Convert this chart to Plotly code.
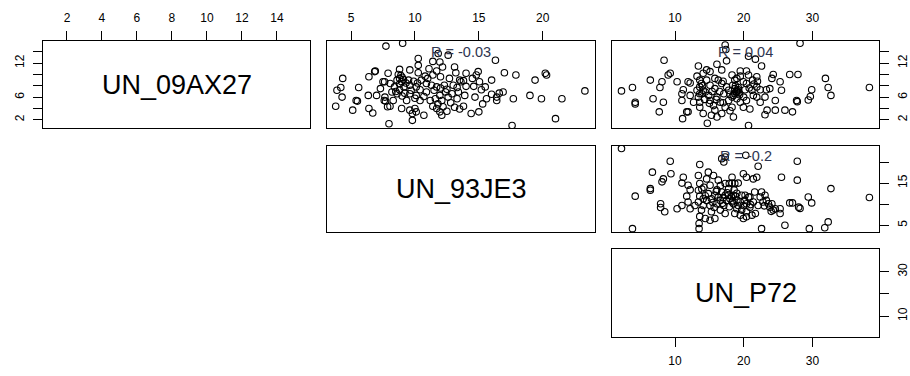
import plotly.graph_objects as go

# Variable names shown on the diagonal and the correlation labels of the upper panels
variables = ["UN_09AX27", "UN_93JE3", "UN_P72"]
corr_labels = ["R = -0.03", "R = 0.04", "R = -0.2"]

# Tick positions and the labels that are printed for each variable
ax27_ticks = [2, 4, 6, 8, 10, 12, 14]
ax27_top_text = ["2", "4", "6", "8", "10", "12", "14"]
ax27_side_text = ["2", "", "6", "", "", "12", ""]
je3_ticks = [5, 10, 15, 20]
je3_top_text = ["5", "10", "15", "20"]
je3_side_text = ["5", "", "15", ""]
p72_ticks = [10, 20, 30]
p72_top_text = ["10", "20", "30"]
p72_side_text = ["10", "", "30"]

# UN_09AX27 (y) against UN_93JE3 (x)
ax27_vs_je3_x = [7.73, 9.04, 10.26, 11.82, 11.95, 11.7, 12.16, 12.6, 13.1, 16.3, 14.95, 17.0, 17.9, 20.2, 20.3,
                 19.4, 23.3, 21.5, 21.0, 17.6, 17.7, 19.0, 19.9, 16.9, 16.4, 16.0, 16.6, 15.6, 15.3, 15.0,
                 14.4, 14.7, 15.2, 15.05, 14.8, 16.0, 14.0, 13.5, 13.8, 14.0, 14.6, 13.9, 13.3, 13.1, 13.8,
                 13.0, 12.7, 12.3, 12.4, 11.95, 12.1, 11.8, 11.95, 12.1, 11.7, 11.6, 11.5, 11.7, 11.0, 10.9,
                 10.8, 10.5, 10.26, 10.26, 9.6, 9.5, 9.6, 10.1, 10.4, 10.1, 10.7, 10.4, 10.0, 10.1, 9.8,
                 10.7, 9.6, 8.96, 9.35, 9.2, 8.8, 8.8, 8.8, 8.8, 8.96, 9.14, 8.6, 8.3, 8.05, 7.97,
                 7.7, 7.6, 7.0, 7.3, 7.5, 7.9, 6.9, 6.4, 6.35, 6.4, 6.7, 5.6, 5.4, 5.13, 4.35,
                 4.2, 3.9, 4.3, 3.8, 9.8, 9.1, 8.6, 8.4, 8.2, 9.6, 11.2, 11.4, 13.3, 13.6, 16.4,
                 7.65, 10.9, 11.3, 8.07, 7.86, 8.7, 8.9, 9.0, 9.3, 9.9, 10.2, 9.7, 8.5, 9.0, 10.0,
                 12.6, 12.9, 12.5, 12.0, 13.4, 12.8, 12.2, 12.5, 13.5, 11.4, 12.0, 11.1, 11.4, 13.2, 14.5,
                 15.5, 5.5, 6.85, 7.63]
ax27_vs_je3_y = [15.0, 15.5, 12.8, 13.7, 12.2, 10.6, 11.3, 13.4, 11.3, 12.5, 10.5, 10.3, 9.9, 10.2, 9.9,
                 9.0, 7.1, 5.7, 2.2, 1.0, 5.7, 6.3, 5.7, 6.9, 6.0, 6.5, 6.7, 5.7, 4.8, 3.4,
                 3.1, 6.0, 7.3, 8.7, 9.9, 9.0, 10.2, 9.0, 8.9, 7.9, 7.9, 6.3, 5.7, 4.2, 4.4,
                 8.1, 9.3, 8.1, 6.9, 6.3, 5.4, 4.8, 3.4, 2.8, 4.0, 5.7, 7.2, 7.8, 9.3, 8.4,
                 9.7, 9.0, 10.3, 11.6, 10.8, 9.0, 8.1, 7.8, 7.3, 6.3, 6.1, 5.4, 4.0, 3.4, 3.1,
                 2.8, 3.7, 4.0, 5.4, 6.7, 7.3, 8.3, 9.3, 10.9, 8.7, 7.8, 6.6, 5.4, 4.4, 1.3,
                 5.3, 5.4, 6.3, 7.5, 8.7, 10.2, 10.6, 9.6, 6.3, 4.0, 3.2, 7.7, 5.4, 3.7, 9.3,
                 7.7, 7.2, 6.0, 4.4, 1.9, 9.1, 9.0, 7.8, 6.9, 6.6, 5.4, 4.4, 7.7, 8.7, 5.4,
                 6.0, 6.9, 8.1, 8.4, 4.3, 10.0, 9.8, 9.5, 8.5, 8.8, 8.5, 7.2, 7.0, 6.2, 5.8,
                 6.0, 6.6, 7.4, 7.6, 6.9, 5.0, 4.3, 3.5, 3.9, 9.9, 9.6, 11.0, 12.3, 10.3, 9.3,
                 7.8, 5.3, 10.5, 8.7]

# UN_09AX27 (y) against UN_P72 (x)
ax27_vs_p72_x = [17.3, 17.4, 28.2, 20.7, 21.7, 17.5, 16.1, 8.4, 13.4, 14.6, 9.3, 9.0, 6.4, 8.1, 3.8,
                 2.2, 4.2, 4.2, 6.8, 8.3, 7.7, 7.8, 10.3, 11.9, 12.2, 11.0, 11.2, 11.0, 11.7, 11.9,
                 11.1, 13.2, 13.6, 14.1, 15.1, 15.8, 13.6, 14.1, 13.4, 13.6, 13.6, 14.4, 14.9, 15.1, 15.6,
                 15.8, 14.7, 16.1, 16.8, 17.3, 18.5, 17.8, 18.3, 18.7, 19.0, 19.2, 18.7, 18.4, 18.3, 19.0,
                 19.5, 19.5, 20.4, 20.7, 21.3, 21.9, 22.6, 20.4, 20.2, 20.4, 19.95, 20.7, 21.4, 22.4, 23.3,
                 23.8, 23.1, 24.6, 23.4, 23.1, 24.6, 26.0, 27.1, 25.5, 25.3, 24.1, 24.3, 26.7, 27.9, 27.7,
                 27.8, 29.4, 29.7, 29.9, 31.9, 32.3, 32.7, 38.3, 16.8, 15.8, 15.1, 16.1, 16.6, 17.1, 17.5,
                 16.8, 19.0, 18.3, 19.5, 14.6, 13.85, 13.2, 12.2, 12.7, 14.1, 15.3, 16.3, 18.7, 19.95, 21.9,
                 21.2, 21.9, 22.4, 18.5, 19.2, 13.6, 14.0, 15.4, 16.0, 16.5, 17.0, 17.8, 18.0, 18.8, 19.4,
                 20.0, 20.8, 21.5, 22.0, 18.9, 19.1, 19.3, 13.9, 14.3, 15.0, 17.0, 18.0, 20.9]
ax27_vs_p72_y = [15.2, 14.4, 15.5, 13.2, 12.7, 12.4, 11.8, 12.5, 11.5, 10.8, 10.2, 9.9, 9.0, 8.7, 7.7,
                 7.1, 5.1, 4.8, 5.7, 5.1, 3.4, 7.7, 8.7, 8.7, 8.5, 6.6, 7.3, 5.4, 3.4, 3.4,
                 2.2, 9.7, 9.0, 10.2, 10.5, 9.3, 7.8, 7.2, 6.0, 5.1, 4.2, 6.9, 6.3, 5.4, 4.5,
                 3.7, 1.4, 2.5, 3.1, 4.2, 2.5, 5.4, 6.0, 6.6, 6.9, 7.3, 7.5, 8.1, 9.9, 9.3,
                 9.7, 10.6, 10.6, 9.9, 9.0, 9.6, 11.5, 8.4, 7.3, 5.4, 4.2, 1.0, 6.3, 7.3, 7.3,
                 7.5, 6.0, 5.4, 3.7, 2.9, 3.7, 3.7, 3.4, 7.2, 8.7, 9.3, 10.0, 10.0, 10.0, 5.4,
                 5.2, 5.5, 6.1, 7.3, 9.3, 7.7, 6.3, 7.7, 10.8, 7.5, 8.1, 6.0, 5.1, 6.6, 7.8,
                 8.4, 5.7, 4.2, 5.1, 9.0, 8.4, 7.2, 6.3, 5.1, 3.1, 2.8, 9.0, 9.0, 8.7, 7.8,
                 7.2, 6.0, 5.1, 6.3, 7.7, 6.6, 8.0, 7.0, 5.6, 7.0, 8.8, 7.2, 6.5, 8.0, 6.4,
                 6.0, 7.6, 8.3, 8.8, 7.0, 7.1, 6.8, 6.6, 5.6, 4.9, 5.0, 3.6, 3.9]

# UN_93JE3 (y) against UN_P72 (x)
je3_vs_p72_x = [2.2, 3.8, 4.2, 6.4, 6.4, 6.7, 8.1, 8.3, 9.3, 9.4, 7.9, 7.9, 8.5, 10.3, 11.0,
                11.2, 11.0, 11.9, 12.2, 11.7, 11.9, 12.2, 13.6, 13.4, 13.6, 13.4, 13.6, 13.4, 14.1, 13.85,
                13.6, 13.5, 13.5, 14.85, 14.6, 15.1, 14.85, 14.6, 15.1, 15.3, 14.4, 15.8, 16.3, 16.1, 16.3,
                16.1, 16.6, 16.8, 17.3, 17.1, 20.3, 22.1, 17.3, 17.8, 17.3, 17.5, 17.3, 18.3, 18.7, 19.2,
                18.5, 18.0, 18.5, 19.0, 18.7, 19.5, 19.95, 20.4, 21.2, 21.7, 19.95, 20.4, 21.4, 21.9, 19.7,
                20.7, 20.9, 21.6, 19.5, 19.95, 20.4, 22.6, 23.1, 23.3, 23.6, 23.8, 24.3, 24.6, 25.3, 25.3,
                25.5, 22.6, 26.0, 27.8, 27.8, 26.7, 27.1, 28.0, 28.2, 29.4, 29.9, 29.55, 31.8, 32.3, 32.7,
                38.3, 12.9, 14.1, 15.3, 15.8, 16.8, 16.6, 17.1, 17.8, 18.3, 19.0, 19.2, 19.7, 20.4, 20.9,
                21.4, 22.4, 22.8, 24.1, 15.6, 15.1, 18.3, 20.2, 16.0, 17.0, 17.6, 18.2, 18.8, 19.0, 18.4,
                17.9, 16.9, 15.7, 15.5, 14.4, 13.9, 14.2, 16.6, 17.9, 20.1, 21.0, 22.1, 23.0, 24.0, 18.6]
je3_vs_p72_y = [23.2, 4.2, 11.9, 13.7, 13.3, 17.6, 15.3, 16.0, 20.2, 17.2, 10.1, 9.2, 8.2, 8.9, 9.7,
                16.4, 15.0, 14.5, 13.4, 11.9, 10.5, 8.9, 19.4, 16.8, 14.9, 13.3, 11.9, 10.5, 9.7, 8.6,
                7.1, 5.4, 4.2, 17.6, 16.0, 14.5, 12.5, 10.9, 9.7, 8.2, 6.6, 6.6, 15.7, 13.4, 11.7,
                10.1, 8.6, 20.8, 21.2, 20.0, 21.6, 19.0, 14.9, 13.7, 12.1, 10.9, 7.8, 15.0, 14.9, 15.0,
                12.1, 11.3, 10.1, 8.9, 7.8, 7.4, 6.6, 7.0, 7.4, 7.8, 17.2, 16.4, 16.0, 16.4, 12.1,
                11.7, 11.7, 12.9, 10.5, 9.7, 10.1, 12.9, 12.1, 10.9, 10.1, 9.3, 8.6, 8.9, 8.9, 7.8,
                16.4, 4.2, 5.0, 20.2, 15.7, 10.3, 10.3, 9.3, 9.0, 11.7, 10.3, 4.2, 4.4, 5.8, 13.7,
                11.6, 9.7, 11.3, 11.3, 12.1, 12.9, 10.9, 9.7, 12.1, 10.5, 10.9, 9.7, 8.6, 8.2, 9.3,
                10.5, 11.7, 10.5, 10.1, 16.8, 6.2, 16.4, 12.1, 13.0, 11.5, 12.7, 11.8, 11.9, 12.6, 10.8,
                9.4, 10.2, 9.2, 10.4, 12.0, 13.6, 14.0, 14.4, 14.9, 10.9, 9.9, 9.7, 9.6, 8.3, 13.4]

# Axis ranges of each variable (horizontal / vertical use)
ax27_xrange = [0.63, 15.89]
ax27_yrange = [0.55, 15.9]
je3_xrange = [3.12, 24.09]
je3_yrange = [3.4, 23.8]
p72_xrange = [0.82, 39.7]
p72_yrange = [0.55, 40.25]

W, H = 910, 376
FONT = "Liberation Sans, Arial, sans-serif"

# panel boxes in pixels
cols = [(43, 310), (327, 595), (612, 879)]
rows = [(41, 128), (146, 232), (249, 337)]


def xdom(c):
    return [cols[c][0] / W, cols[c][1] / W]


def ydom(r):
    return [1 - rows[r][1] / H, 1 - rows[r][0] / H]


def make_axis(domain, rng, anchor, side=None, tickvals=None, ticktext=None, angle=0, standoff=0):
    ax = dict(domain=domain, range=rng, anchor=anchor, showline=True, mirror=True,
              linecolor="black", linewidth=1, showgrid=False, zeroline=False, fixedrange=True)
    if side is None:
        ax.update(showticklabels=False, ticks="")
    else:
        ax.update(side=side, ticks="outside", ticklen=9, tickwidth=1, tickcolor="black",
                  tickmode="array", tickvals=tickvals, ticktext=ticktext, tickangle=angle,
                  ticklabelstandoff=standoff,
                  tickfont=dict(family=FONT, size=12, color="black"))
    return ax


fig = go.Figure()

layout = {}
# (row, col): x axis spec, y axis spec
panels = [
    (0, 0, ax27_xrange, ax27_yrange, ("top", ax27_ticks, ax27_top_text), ("left", ax27_ticks, ax27_side_text)),
    (0, 1, je3_xrange, ax27_yrange, ("top", je3_ticks, je3_top_text), None),
    (0, 2, p72_xrange, ax27_yrange, ("top", p72_ticks, p72_top_text), ("right", ax27_ticks, ax27_side_text)),
    (1, 1, je3_xrange, je3_yrange, None, None),
    (1, 2, p72_xrange, je3_yrange, None, ("right", je3_ticks, je3_side_text)),
    (2, 2, p72_xrange, p72_yrange, ("bottom", p72_ticks, p72_top_text), ("right", p72_ticks, p72_side_text)),
]

for i, (r, c, xr, yr, xs, ys) in enumerate(panels, start=1):
    xname = "xaxis" if i == 1 else f"xaxis{i}"
    yname = "yaxis" if i == 1 else f"yaxis{i}"
    xa = f"x{i}" if i > 1 else "x"
    ya = f"y{i}" if i > 1 else "y"
    if xs:
        layout[xname] = make_axis(xdom(c), xr, ya, xs[0], xs[1], xs[2], 0, 4)
    else:
        layout[xname] = make_axis(xdom(c), xr, ya)
    if ys:
        layout[yname] = make_axis(ydom(r), yr, xa, ys[0], ys[1], ys[2], -90, 4)
    else:
        layout[yname] = make_axis(ydom(r), yr, xa)

# the diagonal panels carry no points, only their frame, ticks and name
for i in (1, 4, 6):
    suffix = "" if i == 1 else str(i)
    fig.add_trace(go.Scatter(x=[None], y=[None], mode="markers", xaxis=f"x{suffix}", yaxis=f"y{suffix}",
                             showlegend=False, hoverinfo="skip"))

scatter_sets = [
    (2, ax27_vs_je3_x, ax27_vs_je3_y),
    (3, ax27_vs_p72_x, ax27_vs_p72_y),
    (5, je3_vs_p72_x, je3_vs_p72_y),
]
for idx, xs_, ys_ in scatter_sets:
    fig.add_trace(go.Scatter(
        x=xs_, y=ys_, mode="markers", xaxis=f"x{idx}", yaxis=f"y{idx}",
        marker=dict(symbol="circle-open", size=6.5, color="black", line=dict(width=1.1, color="black")),
        showlegend=False, hoverinfo="skip"))

annotations = []
# diagonal names
for i, name in zip([1, 4, 6], variables):
    suffix = "" if i == 1 else str(i)
    annotations.append(dict(text=name, x=0.5, y=0.5, xref=f"x{suffix} domain", yref=f"y{suffix} domain",
                            showarrow=False, xanchor="center", yanchor="middle",
                            font=dict(family=FONT, size=27, color="black")))
# correlation labels at the top of the upper panels
for (i, r), lab in zip([(2, 0), (3, 0), (5, 1)], corr_labels):
    top, bottom = rows[r]
    off = 11 if r == 0 else 9.5
    annotations.append(dict(text=lab, x=0.5, y=1 - off / (bottom - top), xref=f"x{i} domain", yref=f"y{i} domain",
                            showarrow=False, xanchor="center", yanchor="middle",
                            font=dict(family=FONT, size=14.5, color="#2e3550")))

fig.update_layout(**layout)
fig.update_layout(width=W, height=H, margin=dict(l=0, r=0, t=0, b=0),
                  paper_bgcolor="white", plot_bgcolor="white", annotations=annotations,
                  showlegend=False)

fig.write_html("out.html")
